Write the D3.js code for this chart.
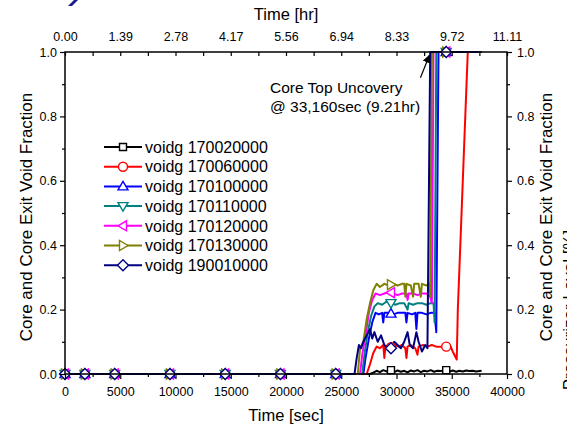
<!DOCTYPE html>
<html>
<head>
<meta charset="utf-8">
<script src="https://cdn.jsdelivr.net/npm/d3@7"></script>
<style>
  body { margin: 0; background: #fff; }
  svg { display: block; font-family: "Liberation Sans", Arial, sans-serif; }
</style>
</head>
<body>
<script>
// ---- data (time in sec, void fraction) ----
var seriesNames = ["voidg 170020000", "voidg 170060000", "voidg 170100000", "voidg 170110000",
                   "voidg 170120000", "voidg 170130000", "voidg 190010000"];
var seriesColors = ["#000000", "#ff0000", "#0000ff", "#008080", "#ff00ff", "#808000", "#000080"];
var seriesSymbols = ["square", "circle", "triUp", "triDown", "triLeft", "triRight", "diamond"];

var voidg170020000 = [[0,0],[27600,0],[27900,0.004],[28200,0.01],[28500,0.006],[28800,0.012],[29100,0.008],[29500,0.012],[29800,0.006],[30100,0.011],[30400,0.007],[30700,0.01],[31000,0.005],[31300,0.011],[31600,0.008],[31900,0.012],[32200,0.006],[32500,0.01],[32800,0.008],[33100,0.012],[33400,0.007],[33700,0.01],[34000,0.009],[34500,0.012],[34800,0.008],[35100,0.011],[35400,0.007],[35700,0.01],[36000,0.008],[36300,0.011],[36600,0.009],[36900,0.01],[37200,0.008],[37700,0.01]];
var voidg170060000 = [[0,0],[27300,0],[27600,0.03],[27900,0.065],[28200,0.085],[28500,0.08],[28800,0.09],[28900,0.05],[29000,0.085],[29300,0.09],[29600,0.08],[29900,0.09],[30200,0.085],[30500,0.09],[30800,0.08],[30900,0.05],[31000,0.085],[31300,0.09],[31700,0.08],[31900,0.06],[32000,0.085],[32400,0.09],[32800,0.085],[33200,0.09],[33600,0.085],[34000,0.085],[34500,0.085],[34900,0.085],[35150,0.065],[35450,0.045],[35550,0.2],[36000,0.6],[36450,1.0],[37700,1.0]];
var voidg170100000 = [[0,0],[27000,0],[27200,0.05],[27500,0.11],[27800,0.16],[28100,0.19],[28400,0.185],[28700,0.19],[28800,0.16],[28900,0.19],[29300,0.19],[29700,0.185],[30100,0.19],[30500,0.19],[30800,0.19],[30900,0.16],[31000,0.19],[31400,0.185],[31700,0.19],[31800,0.14],[31900,0.19],[32300,0.19],[32700,0.185],[33100,0.19],[33450,0.19],[33600,0.13],[33800,1.0],[37700,1.0]];
var voidg170110000 = [[0,0],[26900,0],[27100,0.06],[27400,0.13],[27700,0.18],[28000,0.21],[28300,0.22],[28700,0.215],[29100,0.225],[29500,0.22],[29900,0.215],[30300,0.22],[30700,0.22],[31000,0.2],[31100,0.22],[31500,0.215],[31900,0.22],[32300,0.22],[32700,0.215],[33100,0.22],[33350,0.22],[33450,0.16],[33600,1.0],[37700,1.0]];
var voidg170120000 = [[0,0],[26700,0],[26900,0.06],[27200,0.12],[27500,0.19],[27800,0.23],[28100,0.25],[28500,0.245],[28900,0.25],[29300,0.255],[29700,0.25],[30100,0.245],[30500,0.25],[30900,0.25],[31000,0.23],[31100,0.25],[31500,0.25],[31900,0.245],[32300,0.25],[32700,0.25],[33050,0.24],[33200,0.22],[33350,1.0],[37700,1.0]];
var voidg170130000 = [[0,0],[26500,0],[26700,0.08],[27000,0.1],[27300,0.17],[27600,0.22],[27900,0.26],[28200,0.28],[28500,0.27],[28900,0.28],[29300,0.275],[29700,0.28],[30100,0.275],[30500,0.28],[30700,0.28],[30800,0.24],[30900,0.28],[31300,0.275],[31500,0.24],[31600,0.28],[32000,0.28],[32200,0.24],[32300,0.28],[32700,0.275],[32950,0.28],[33050,0.24],[33200,1.0],[37700,1.0]];
var voidg190010000 = [[0,0],[26200,0],[26400,0.05],[26600,0.09],[26800,0.08],[27000,0.1],[27300,0.12],[27600,0.14],[27800,0.11],[28000,0.13],[28300,0.1],[28600,0.12],[28900,0.09],[29200,0.08],[29500,0.08],[29800,0.1],[30100,0.09],[30400,0.08],[30700,0.1],[31000,0.13],[31200,0.09],[31500,0.08],[31800,0.13],[32000,0.1],[32300,0.07],[32600,0.09],[32800,0.08],[33050,1.0],[37700,1.0]];
var seriesData = [voidg170020000, voidg170060000, voidg170100000, voidg170110000,
                  voidg170120000, voidg170130000, voidg190010000];

var markerTimes = [0, 1800, 4500, 9500, 14500, 19500, 24500, 29500, 34500];
var secTicks = [0, 5000, 10000, 15000, 20000, 25000, 30000, 35000, 40000];
var hrTickLabels = ["0.00", "1.39", "2.78", "4.17", "5.56", "6.94", "8.33", "9.72", "11.11"];
var yTicks = [0, 0.2, 0.4, 0.6, 0.8, 1.0];
var annotationLines = ["Core Top Uncovery", "@ 33,160sec (9.21hr)"];
var uncoverySec = 33160;

(function () {
  // ---- layout ----
  var W = 567, H = 428;
  var pL = 65, pR = 507, pT = 52, pB = 374;

  var svg = d3.select("body").append("svg")
    .attr("width", W).attr("height", H);

  var x = d3.scaleLinear().domain([0, 40000]).range([pL, pR]);
  var y = d3.scaleLinear().domain([0, 1]).range([pB, pT]);

  function valueAt(data, t) {
    var i = d3.bisector(function (d) { return d[0]; }).left(data, t);
    if (i <= 0) return data[0][1];
    if (i >= data.length) return data[data.length - 1][1];
    var a = data[i - 1], b = data[i];
    return a[1] + (b[1] - a[1]) * (t - a[0]) / (b[0] - a[0]);
  }

  function symbolPath(kind) {
    switch (kind) {
      case "square": return "M-3.5,-3.5H3.5V3.5H-3.5Z";
      case "circle": return "M4.5,0A4.5,4.5 0 1,1 -4.5,0A4.5,4.5 0 1,1 4.5,0Z";
      case "triUp": return "M0,-5L5,3.5H-5Z";
      case "triDown": return "M0,5L5,-3.5H-5Z";
      case "triLeft": return "M-5,0L3.5,-5V5Z";
      case "triRight": return "M5,0L-3.5,-5V5Z";
      case "diamond": return "M0,-5.5L5.5,0L0,5.5L-5.5,0Z";
    }
  }

  // ---- series ----
  var line = d3.line().x(function (d) { return x(d[0]); }).y(function (d) { return y(d[1]); });

  seriesData.forEach(function (data, k) {
    svg.append("path")
      .datum(data)
      .attr("d", line)
      .attr("fill", "none")
      .attr("stroke", seriesColors[k])
      .attr("stroke-width", 2)
      .attr("stroke-linejoin", "round");
  });
  seriesData.forEach(function (data, k) {
    svg.selectAll(".m" + k)
      .data(markerTimes)
      .enter().append("path")
      .attr("class", "m" + k)
      .attr("transform", function (t) { return "translate(" + x(t) + "," + y(valueAt(data, t)) + ")"; })
      .attr("d", symbolPath(seriesSymbols[k]))
      .attr("fill", "#fff")
      .attr("stroke", seriesColors[k])
      .attr("stroke-width", 1.4);
  });

  // ---- axes ----
  var minorSec = d3.range(2500, 40000, 5000);
  var minorY = [0.1, 0.3, 0.5, 0.7, 0.9];
  var bottomAxis = d3.axisBottom(x).tickValues(secTicks).tickSize(5).tickFormat(d3.format("d"));
  var bottomMinor = d3.axisBottom(x).tickValues(minorSec).tickSize(3).tickFormat("");
  var topAxis = d3.axisTop(x).tickValues(secTicks).tickSize(-4)
    .tickFormat(function (d, i) { return hrTickLabels[i]; });
  var topMinor = d3.axisTop(x).tickValues(minorSec).tickSize(-4).tickFormat("");
  var leftAxis = d3.axisLeft(y).tickValues(yTicks).tickSize(5).tickFormat(d3.format(".1f"));
  var leftMinor = d3.axisLeft(y).tickValues(minorY).tickSize(3).tickFormat("");
  var rightAxis = d3.axisRight(y).tickValues(yTicks).tickSize(5).tickFormat(d3.format(".1f"));
  var rightMinor = d3.axisRight(y).tickValues(minorY).tickSize(3).tickFormat("");

  function styleAxis(g) {
    g.select(".domain").remove();
    g.selectAll("line").attr("stroke", "#000").attr("stroke-width", 1.2);
    g.selectAll("text").attr("fill", "#000").style("font-size", "12.5px")
      .style("font-family", "'Liberation Sans', Arial, sans-serif");
  }

  svg.append("g").attr("transform", "translate(0," + pB + ")").call(bottomAxis).call(styleAxis)
    .selectAll("text").attr("y", 13).attr("dy", "0.71em");
  svg.append("g").attr("transform", "translate(0," + pB + ")").call(bottomMinor).call(styleAxis);
  svg.append("g").attr("transform", "translate(0," + pT + ")").call(topAxis).call(styleAxis)
    .selectAll("text").attr("y", -11).attr("dy", 0);
  svg.append("g").attr("transform", "translate(0," + pT + ")").call(topMinor).call(styleAxis);
  svg.append("g").attr("transform", "translate(" + pL + ",0)").call(leftAxis).call(styleAxis)
    .selectAll("text").attr("x", -8);
  svg.append("g").attr("transform", "translate(" + pL + ",0)").call(leftMinor).call(styleAxis);
  svg.append("g").attr("transform", "translate(" + pR + ",0)").call(rightAxis).call(styleAxis)
    .selectAll("text").attr("x", 10);
  svg.append("g").attr("transform", "translate(" + pR + ",0)").call(rightMinor).call(styleAxis);

  // frame
  svg.append("rect")
    .attr("x", pL).attr("y", pT)
    .attr("width", pR - pL).attr("height", pB - pT)
    .attr("fill", "none").attr("stroke", "#000").attr("stroke-width", 1.5);

  // ---- titles ----
  svg.append("text").attr("x", (pL + pR) / 2).attr("y", 421)
    .attr("text-anchor", "middle").style("font-size", "16.5px").text("Time [sec]");
  svg.append("text").attr("x", (pL + pR) / 2).attr("y", 20)
    .attr("text-anchor", "middle").style("font-size", "16.5px").text("Time [hr]");
  svg.append("text").attr("transform", "translate(32,217) rotate(-90)")
    .attr("text-anchor", "middle").style("font-size", "17px").text("Core and Core Exit Void Fraction");
  svg.append("text").attr("transform", "translate(552,217) rotate(-90)")
    .attr("text-anchor", "middle").style("font-size", "17px").text("Core and Core Exit Void Fraction");
  // second right title sits mostly beyond the picture edge, as in the source
  svg.append("text").attr("transform", "translate(575,310) rotate(-90)")
    .attr("text-anchor", "middle").style("font-size", "17px").text("Pressurizer Level [%]");

  // stray fragment at top-left
  svg.append("path").attr("d", "M74,0L78,0L72,6L68,6Z").attr("fill", "#1a1a8c");

  // ---- annotation ----
  svg.selectAll(".ann").data(annotationLines).enter().append("text")
    .attr("class", "ann")
    .attr("x", 270).attr("y", function (d, i) { return 93 + i * 19; })
    .style("font-size", "15.5px").text(function (d) { return d; });

  svg.append("defs").append("marker")
    .attr("id", "arr").attr("viewBox", "0 0 10 10").attr("refX", 9).attr("refY", 5)
    .attr("markerWidth", 7).attr("markerHeight", 7).attr("orient", "auto")
    .append("path").attr("d", "M0,0L10,5L0,10Z").attr("fill", "#000");
  svg.append("line")
    .attr("x1", x(uncoverySec) - 11).attr("y1", y(0.92))
    .attr("x2", x(uncoverySec) - 2).attr("y2", y(0.99))
    .attr("stroke", "#000").attr("stroke-width", 1.2).attr("marker-end", "url(#arr)");

  // ---- legend ----
  var legend = svg.append("g").attr("transform", "translate(104,147)");
  var rows = legend.selectAll("g").data(seriesNames).enter().append("g")
    .attr("transform", function (d, i) { return "translate(0," + (i * 19.7) + ")"; });
  rows.append("line").attr("x1", 0).attr("x2", 38).attr("y1", 0).attr("y2", 0)
    .attr("stroke", function (d, i) { return seriesColors[i]; }).attr("stroke-width", 2);
  rows.append("path")
    .attr("transform", "translate(19,0)")
    .attr("d", function (d, i) { return symbolPath(seriesSymbols[i]); })
    .attr("fill", "#fff")
    .attr("stroke", function (d, i) { return seriesColors[i]; }).attr("stroke-width", 1.4);
  rows.append("text").attr("x", 41).attr("y", 0).attr("dy", "0.36em")
    .style("font-size", "16px").text(function (d) { return d; });
})();
</script>
</body>
</html>
